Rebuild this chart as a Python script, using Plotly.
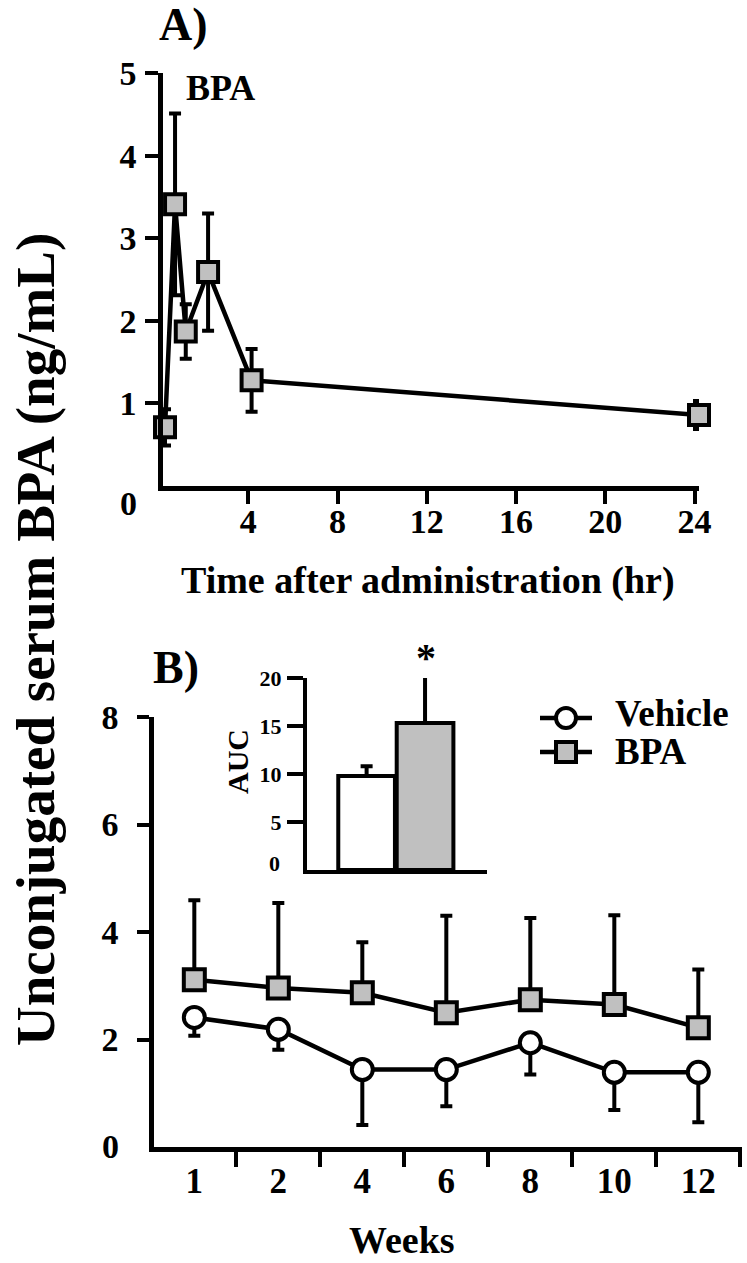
import plotly.graph_objects as go

# ---------------- data ----------------
# Panel A: time course after administration
time_hr = [0.27, 0.72, 1.2, 2.2, 4.15, 24.2]
serum_bpa_a = [0.71, 3.41, 1.87, 2.59, 1.28, 0.86]
serum_bpa_a_err = [0.22, 1.10, 0.33, 0.71, 0.38, 0.17]
time_ticks = [4, 8, 12, 16, 20, 24]
a_yticks = [1, 2, 3, 4, 5]

# Panel B: weekly measurements
weeks = ["1", "2", "4", "6", "8", "10", "12"]
vehicle = [2.41, 2.19, 1.44, 1.44, 1.94, 1.39, 1.39]
vehicle_err = [0.34, 0.38, 1.03, 0.68, 0.59, 0.70, 0.93]
bpa = [3.11, 2.96, 2.87, 2.50, 2.74, 2.65, 2.22]
bpa_err = [1.48, 1.58, 0.94, 1.80, 1.52, 1.66, 1.08]
b_yticks = [2, 4, 6, 8]

# Inset: AUC
groups = ["Vehicle", "BPA"]
auc = [9.8, 15.3]
auc_err = [1.0, 4.9]
auc_yticks = [5, 10, 15, 20]

# ---------------- layout helpers ----------------
W, H = 747, 1263
FONT = "Liberation Serif"
GRAY = "#c0c0c0"


def fx(p):
    return p / W


def fy(p):
    return 1 - p / H


def bold(size):
    return dict(family=FONT, size=size, color="black", weight="bold")


fig = go.Figure()

# Panel A
fig.add_trace(go.Scatter(
    x=time_hr, y=serum_bpa_a, mode="lines+markers",
    line=dict(color="black", width=4.5),
    marker=dict(symbol="square", size=20, color=GRAY, line=dict(color="black", width=4)),
    error_y=dict(type="data", array=serum_bpa_a_err, color="black", thickness=4, width=6),
    cliponaxis=False, xaxis="x", yaxis="y", showlegend=False))

# Panel B
fig.add_trace(go.Scatter(
    x=weeks, y=bpa, mode="lines+markers", name="BPA",
    line=dict(color="black", width=4.5),
    marker=dict(symbol="square", size=21, color=GRAY, line=dict(color="black", width=4)),
    error_y=dict(type="data", symmetric=False, array=bpa_err, arrayminus=[0] * len(bpa),
                 color="black", thickness=4, width=6),
    cliponaxis=False, xaxis="x2", yaxis="y2", showlegend=False))
fig.add_trace(go.Scatter(
    x=weeks, y=vehicle, mode="lines+markers", name="Vehicle",
    line=dict(color="black", width=4.5),
    marker=dict(symbol="circle", size=21, color="white", line=dict(color="black", width=4)),
    error_y=dict(type="data", symmetric=False, array=[0] * len(vehicle), arrayminus=vehicle_err,
                 color="black", thickness=4, width=6),
    cliponaxis=False, xaxis="x2", yaxis="y2", showlegend=False))

# Inset bars
fig.add_trace(go.Bar(
    x=groups, y=auc, width=0.97,
    marker=dict(color=["white", GRAY], line=dict(color="black", width=4)),
    error_y=dict(type="data", symmetric=False, array=auc_err, arrayminus=[0, 0],
                 color="black", thickness=4, width=6),
    xaxis="x3", yaxis="y3", showlegend=False))

# Legend keys (drawn on a hidden pixel-space overlay)
LEG_X = [540, 592]
LEG_MID = 566
LEG_Y = {"Vehicle": 718, "BPA": 752}
for nm, sym, col in [("Vehicle", "circle", "white"), ("BPA", "square", GRAY)]:
    yy = LEG_Y[nm]
    fig.add_trace(go.Scatter(x=LEG_X, y=[yy, yy], mode="lines",
                             line=dict(color="black", width=4.5),
                             xaxis="x4", yaxis="y4", showlegend=False, hoverinfo="skip"))
    fig.add_trace(go.Scatter(x=[LEG_MID], y=[yy], mode="markers",
                             marker=dict(symbol=sym, size=20, color=col,
                                         line=dict(color="black", width=4)),
                             xaxis="x4", yaxis="y4", showlegend=False, hoverinfo="skip",
                             cliponaxis=False))

axis_common = dict(showline=True, linecolor="black", linewidth=4.5, showgrid=False,
                   zeroline=False, ticks="outside", tickcolor="black", tickwidth=4,
                   automargin=False)

fig.update_layout(
    width=W, height=H, margin=dict(l=0, r=0, t=0, b=0, pad=0, autoexpand=False),
    paper_bgcolor="white", plot_bgcolor="rgba(0,0,0,0)", showlegend=False,
    xaxis=dict(axis_common, domain=[fx(163), fx(699)], range=[0.18, 24.2], anchor="y",
               tickvals=time_ticks, ticklen=13, tickfont=bold(34), ticklabelstandoff=-12),
    yaxis=dict(axis_common, domain=[fy(486), fy(73)], range=[0, 5], anchor="x",
               tickvals=a_yticks, ticklen=13, tickfont=bold(34), ticklabelstandoff=2),
    xaxis2=dict(axis_common, domain=[fx(154), fx(742)], range=[-0.48, 6.52], anchor="y2",
                type="category", categoryorder="array", categoryarray=weeks,
                tickson="boundaries", ticklen=15, tickfont=bold(35), ticklabelstandoff=-1),
    yaxis2=dict(axis_common, domain=[fy(1147), fy(717)], range=[0, 8], anchor="x2",
                tickvals=b_yticks, ticklen=12, tickfont=bold(34), ticklabelstandoff=12),
    xaxis3=dict(axis_common, domain=[fx(307), fx(487)], range=[-1.02, 2.06], anchor="y3",
                type="category", categoryorder="array", categoryarray=groups,
                ticks="", showticklabels=False, linewidth=4),
    yaxis3=dict(axis_common, domain=[fy(870), fy(678)], range=[0, 20], anchor="x3",
                tickvals=auc_yticks, ticklen=16, linewidth=4, tickfont=bold(22),
                ticklabelstandoff=1),
    xaxis4=dict(domain=[0, 1], range=[0, W], visible=False, anchor="y4", fixedrange=True,
                automargin=False),
    yaxis4=dict(domain=[0, 1], range=[H, 0], visible=False, anchor="x4", fixedrange=True,
                automargin=False),
)


def ann(text, x, y, size, angle=0, xanchor="center"):
    fig.add_annotation(text=text, x=fx(x), y=fy(y), xref="paper", yref="paper",
                       showarrow=False, font=bold(size), textangle=angle,
                       xanchor=xanchor, yanchor="middle")


ann("A)", 183, 25, 46)
ann("BPA", 220, 88, 36)
ann("B)", 176, 668, 46)
ann("Time after administration (hr)", 428, 580, 38)
ann("Weeks", 402, 1240, 38)
ann("Unconjugated serum BPA (ng/mL)", 36, 640, 55, angle=-90)
ann("AUC", 237, 762, 30, angle=-90)
ann("*", 426, 657, 40)
ann("0", 128, 503, 34)
ann("0", 111, 1146, 34)
ann("0", 274, 863, 22)
ann("Vehicle", 613, 713, 37, xanchor="left")
ann("BPA", 613, 752, 37, xanchor="left")

# place the chart flush with the page's top-left corner
POST = """
document.documentElement.style.margin='0';
document.documentElement.style.overflow='hidden';
document.body.style.margin='0';
document.body.style.padding='0';
var gd=document.getElementById('{plot_id}');
gd.style.position='absolute'; gd.style.left='0px'; gd.style.top='0px';
"""

fig.write_html("out.html", post_script=POST, config={"displayModeBar": False})
